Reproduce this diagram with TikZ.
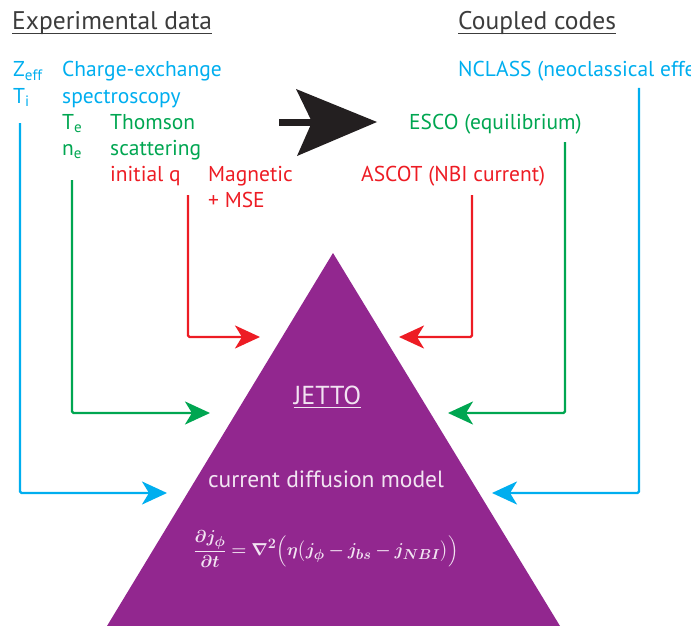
\documentclass[tikz,border=0pt]{standalone}
\usepackage{fontspec}
\setmainfont{PT Sans}
\usepackage{amsmath,bm}
\usetikzlibrary{arrows.meta}
\definecolor{cblue}{RGB}{0,174,239}
\definecolor{cgreen}{RGB}{0,166,81}
\definecolor{cred}{RGB}{237,28,36}
\definecolor{cpurple}{RGB}{146,39,143}
\definecolor{cdark}{RGB}{35,31,32}
\definecolor{chead}{RGB}{60,60,60}
\definecolor{clight}{RGB}{242,228,242}
\tikzset{
  lbl/.style={inner sep=0pt, anchor=base west, font=\fontsize{21.5}{24}\selectfont},
  headtxt/.style={inner sep=0pt, anchor=base west, text=chead, font=\fontsize{25.5}{28}\selectfont},
  ulinehead/.style={chead, line width=1.3pt},
  tritxt/.style={inner sep=0pt, anchor=base, text=clight, font=\fontsize{23.5}{26}\selectfont},
  conn/.style={line width=2.4pt, rounded corners=1.5pt,
    -{Stealth[length=25pt, width=23pt, inset=7pt]}},
}
\begin{document}
\begin{tikzpicture}[x=1pt,y=-1pt]
\useasboundingbox (0,0) rectangle (691,626);
\clip (0,0) rectangle (691,626);

% triangle
\fill[cpurple] (333,253) -- (107,626) -- (560,626) -- cycle;
\coordinate (apex) at (333,253);

% headings
\node[headtxt] (exp) at (12,30) {Experimental data};
\draw[ulinehead] ([yshift=-3.5pt]exp.base west) -- ([yshift=-3.5pt]exp.base east);
\node[headtxt] (cpl) at (458,30) {Coupled codes};
\draw[ulinehead] ([yshift=-3.5pt]cpl.base west) -- ([yshift=-3.5pt]cpl.base east);

% experimental data
\node[lbl, text=cblue] (zeff) at (13,77) {Z\textsubscript{eff}};
\node[lbl, text=cblue] (ti) at (13,103) {T\textsubscript{i}};
\node[lbl, text=cblue] (cx1) at (62,77) {Charge-exchange};
\node[lbl, text=cblue] (cx2) at (62,103) {spectroscopy};
\node[lbl, text=cgreen] (te) at (62,129) {T\textsubscript{e}};
\node[lbl, text=cgreen] (ne) at (62,155) {n\textsubscript{e}};
\node[lbl, text=cgreen] (th1) at (110,129) {Thomson};
\node[lbl, text=cgreen] (th2) at (110,155) {scattering};
\node[lbl, text=cred] (iq) at (110,181) {initial q};
\node[lbl, text=cred] (mag1) at (208,181) {Magnetic};
\node[lbl, text=cred] (mag2) at (208,207) {+ MSE};

% coupled codes
\node[lbl, text=cblue] (ncl) at (458,77) {NCLASS (neoclassical effects)};
\node[lbl, text=cgreen] (esco) at (409,129) {ESCO (equilibrium)};
\node[lbl, text=cred] (ascot) at (361,181) {ASCOT (NBI current)};

% big black arrow
\fill[cdark] (279,118.5) rectangle (314,125.5);
\fill[cdark] (296,89) -- (377,122) -- (297,156) -- (312,122) -- cycle;

% triangle texts
\node[tritxt, font=\fontsize{26}{28}\selectfont] (jetto) at (327.5,404) {JETTO};
\draw[clight, line width=1pt] ([yshift=-3pt]jetto.base west) -- ([yshift=-3pt]jetto.base east);
\node[tritxt] (cdm) at (326,487) {current diffusion model};
\node[inner sep=0pt, text=clight, font=\fontsize{19}{22}\selectfont] (eq) at (326,549)
  {$\displaystyle \frac{\bm{\partial j_\phi}}{\bm{\partial t}} \bm{=} \bm{\nabla}^{\bm{2}}\Bigl(\bm{\eta}\bigl(\bm{j_\phi}\bm{-}\bm{j_{bs}}\bm{-}\bm{j_{NBI}}\bigr)\Bigr)$};

% connector coordinates
\coordinate (bL0) at (20,123);   \coordinate (bL1) at (167,493);
\coordinate (bR0) at (639,88);   \coordinate (bR1) at (492,493);
\coordinate (gL0) at (72,180);   \coordinate (gL1) at (210,413);
\coordinate (gR0) at (565,142);  \coordinate (gR1) at (448,413);
\coordinate (rL0) at (188,195);  \coordinate (rL1) at (260,337);
\coordinate (rR0) at (472,195);  \coordinate (rR1) at (399,337);

\draw[conn, cblue] (bL0) |- (bL1);
\draw[conn, cblue] (bR0) |- (bR1);
\draw[conn, cgreen] (gL0) |- (gL1);
\draw[conn, cgreen] (gR0) |- (gR1);
\draw[conn, cred] (rL0) |- (rL1);
\draw[conn, cred] (rR0) |- (rR1);
\end{tikzpicture}
\end{document}
